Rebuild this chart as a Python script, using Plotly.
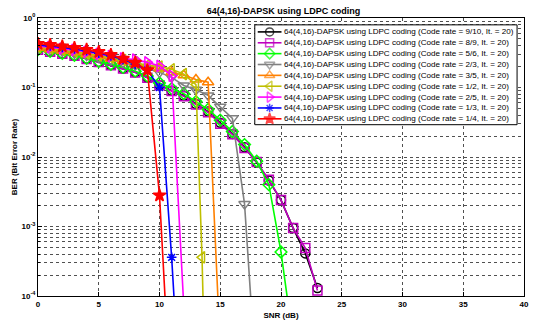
import plotly.graph_objects as go

# SNR grid (dB) and BER per LDPC code rate, 64(4,16)-DAPSK, 20 decoder iterations
snr_910 = list(range(0, 24))
ber_910 = [0.351, 0.329, 0.308, 0.287, 0.259, 0.233, 0.210, 0.188, 0.166, 0.139, 0.109,
           0.090, 0.076, 0.058, 0.045, 0.031, 0.0215, 0.0138, 0.0083, 0.0046, 0.0024,
           9.5e-4, 4.1e-4, 1.3e-4]

snr_89 = list(range(0, 24))
ber_89 = [0.350, 0.328, 0.307, 0.286, 0.258, 0.232, 0.209, 0.187, 0.165, 0.138, 0.108,
          0.089, 0.075, 0.057, 0.044, 0.030, 0.0212, 0.0135, 0.0085, 0.0047, 0.0024,
          9.5e-4, 4.9e-4, 1.2e-4]

snr_56 = list(range(0, 22))
ber_56 = [0.352, 0.330, 0.309, 0.290, 0.263, 0.238, 0.216, 0.195, 0.172, 0.146, 0.116,
          0.0965, 0.0815, 0.0627, 0.0484, 0.0339, 0.0233, 0.0151, 0.0087, 0.0040,
          4.3e-4, 2.3e-5]

snr_23 = list(range(0, 19))
ber_23 = [0.366, 0.348, 0.330, 0.308, 0.288, 0.270, 0.249, 0.229, 0.208, 0.188, 0.165,
          0.140, 0.107, 0.093, 0.077, 0.053, 0.036, 0.0021, 4.8e-6]

snr_35 = list(range(0, 16))
ber_35 = [0.374, 0.356, 0.339, 0.322, 0.302, 0.283, 0.262, 0.242, 0.223, 0.202, 0.187,
          0.166, 0.150, 0.130, 0.119, 1.7e-5]

snr_12 = list(range(0, 14)) + [13.5, 14]
ber_12 = [0.383, 0.365, 0.348, 0.330, 0.309, 0.290, 0.268, 0.248, 0.229, 0.209, 0.200,
          0.183, 0.156, 0.110, 3.6e-4, 1e-7]

snr_25 = list(range(0, 13))
ber_25 = [0.397, 0.380, 0.362, 0.348, 0.326, 0.305, 0.284, 0.262, 0.252, 0.230, 0.204,
          0.148, 7e-5]

snr_13 = list(range(0, 13))
ber_13 = [0.410, 0.397, 0.378, 0.359, 0.338, 0.312, 0.284, 0.254, 0.215, 0.178, 0.100,
          3.6e-4, 4e-7]

snr_14 = list(range(0, 12))
ber_14 = [0.426, 0.410, 0.391, 0.372, 0.350, 0.325, 0.295, 0.260, 0.228, 0.178, 2.8e-3,
          1.7e-6]

rates = ["9/10", "8/9", "5/6", "2/3", "3/5", "1/2", "2/5", "1/3", "1/4"]
snr_sets = [snr_910, snr_89, snr_56, snr_23, snr_35, snr_12, snr_25, snr_13, snr_14]
ber_sets = [ber_910, ber_89, ber_56, ber_23, ber_35, ber_12, ber_25, ber_13, ber_14]
colors = ["#000000", "#bf00bf", "#00ff00", "#808080", "#ff8000",
          "#bfbf00", "#ff00ff", "#0000ff", "#ff0000"]
symbols = ["circle-open", "square-open", "diamond-open", "triangle-down-open",
           "triangle-up-open", "triangle-left-open", "triangle-right-open",
           "asterisk-open", "star"]
sizes = [9, 9, 9, 10, 10, 10, 10, 8, 9.5]

W, H = 536, 325
M = dict(l=38, r=7, t=18, b=23)
font = "Liberation Sans, Arial, sans-serif"

fig = go.Figure()
for rate, x, y, c, s, m in zip(rates, snr_sets, ber_sets, colors, symbols, sizes):
    fig.add_trace(go.Scatter(
        x=x, y=y, mode="lines+markers", showlegend=False,
        name=f"Code rate = {rate}",
        line=dict(color=c, width=1.6),
        marker=dict(symbol=s, size=m, color=c, line=dict(color=c, width=1.5)),
    ))

# Compact boxed legend (MATLAB-style), laid out on an overlay axis in pixel units
box_x0, box_x1, box_y0, box_y1 = 257, 522, 25, 127
row0, row_step = 32.2, 11.1
samp_x0, samp_x1, text_x = 260, 284, 285

fig.add_trace(go.Scatter(
    x=[box_x0, box_x1, box_x1, box_x0, box_x0],
    y=[box_y0, box_y0, box_y1, box_y1, box_y0],
    xaxis="x2", yaxis="y2", mode="lines", fill="toself", fillcolor="white",
    line=dict(color="black", width=1), showlegend=False, hoverinfo="skip",
))
for i, (rate, c, s, m) in enumerate(zip(rates, colors, symbols, sizes)):
    yc = row0 + i * row_step
    fig.add_trace(go.Scatter(
        x=[samp_x0, (samp_x0 + samp_x1) / 2, samp_x1], y=[yc, yc, yc],
        xaxis="x2", yaxis="y2", mode="lines+markers", showlegend=False,
        hoverinfo="skip",
        line=dict(color=c, width=1.6),
        marker=dict(symbol=s, size=[0, m - 1, 0], color=c, line=dict(color=c, width=1.5)),
    ))
    fig.add_annotation(
        x=text_x, y=yc, xref="x2", yref="y2", xanchor="left", yanchor="middle",
        showarrow=False,
        text=f"64(4,16)-DAPSK using LDPC coding (Code rate = {rate}, It. = 20)",
        font=dict(family=font, size=8.1, color="black"),
    )

grid = dict(gridcolor="#505050", griddash="dot", gridwidth=1)

fig.update_layout(
    width=W, height=H,
    margin=dict(l=M["l"], r=M["r"], t=M["t"], b=M["b"]),
    paper_bgcolor="white", plot_bgcolor="white",
    title=dict(text="<b>64(4,16)-DAPSK using LDPC coding</b>", x=0.529, xanchor="center",
               y=0.975, yanchor="top", font=dict(family=font, size=9, color="black")),
    font=dict(family=font, size=8, color="black"),
    showlegend=False,
    xaxis=dict(range=[0, 40], tickvals=[0, 5, 10, 15, 20, 25, 30, 35, 40],
               ticktext=[f"<b>{v}</b>" for v in [0, 5, 10, 15, 20, 25, 30, 35, 40]],
               showgrid=True, **grid, zeroline=False,
               showline=True, linecolor="black", linewidth=1, mirror=True,
               ticks="inside", ticklen=4, tickcolor="black",
               tickfont=dict(family=font, size=8),
               title=dict(text="<b>SNR (dB)</b>", font=dict(family=font, size=8), standoff=4)),
    yaxis=dict(type="log", range=[-4, 0],
               tickvals=[1e-4, 1e-3, 1e-2, 1e-1, 1],
               ticktext=["<b>10<sup>-4</sup></b>", "<b>10<sup>-3</sup></b>",
                         "<b>10<sup>-2</sup></b>", "<b>10<sup>-1</sup></b>",
                         "<b>10<sup>0</sup></b>"],
               showgrid=True, **grid, zeroline=False,
               minor=dict(dtick="D1", showgrid=True, gridcolor="#505050",
                          griddash="dot", gridwidth=1, ticks="inside", ticklen=2,
                          tickcolor="black"),
               showline=True, linecolor="black", linewidth=1, mirror=True,
               ticks="inside", ticklen=4, tickcolor="black",
               tickfont=dict(family=font, size=8),
               title=dict(text="<b>BER (Bit Error Rate)</b>", font=dict(family=font, size=8),
                          standoff=2)),
    xaxis2=dict(overlaying="x", range=[M["l"], W - M["r"]], visible=False, fixedrange=True),
    yaxis2=dict(overlaying="y", range=[H - M["b"], M["t"]], visible=False, fixedrange=True),
)

fig.write_html("out.html")
